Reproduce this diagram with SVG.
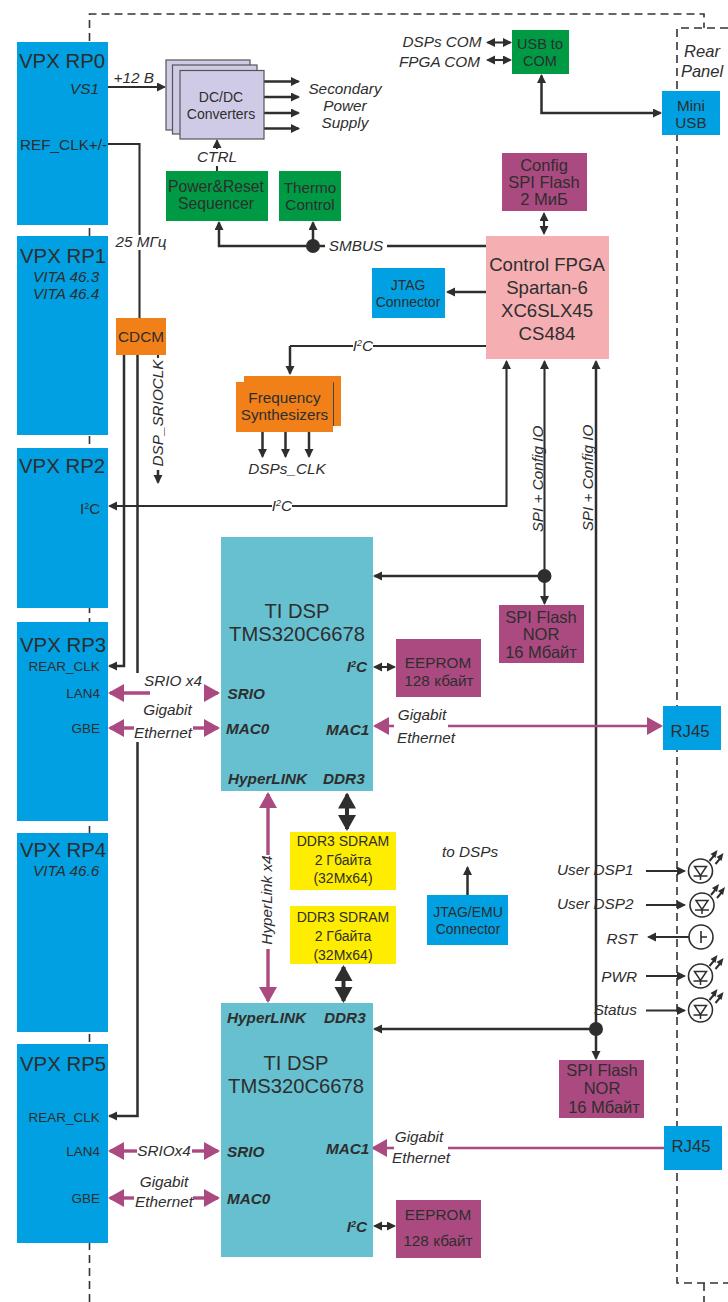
<svg xmlns="http://www.w3.org/2000/svg" width="728" height="1302" viewBox="0 0 728 1302">
<style>
text{font-family:"Liberation Sans",Arial,sans-serif;fill:#2e2e2e;font-size:15.3px}
.m{text-anchor:middle}.e{text-anchor:end}
.i{font-style:italic}
.b{font-style:italic;font-weight:bold}
.h{font-size:20.4px}.d{font-size:20.2px}.f{font-size:18.6px}.s{font-size:14px}.r{font-size:13.5px}.l{font-size:16.5px}
.blue{fill:#00a0e3}.green{fill:#009a44}.purple{fill:#ab4a81}.orange{fill:#f18019}.teal{fill:#66c0d0}.yellow{fill:#ffed00}.pink{fill:#f5afb3}
.lav{fill:#cfcbe6;stroke:#555;stroke-width:1.2}
.frame{fill:none;stroke:#333;stroke-width:1.6;stroke-dasharray:8 5}
.w{fill:none;stroke:#2e2e2e;stroke-width:2.1}
.k{fill:none;stroke:#2e2e2e;stroke-width:2.5}
.a{marker-end:url(#ak)}.aa{marker-start:url(#ak);marker-end:url(#ak)}
.p{fill:none;stroke:#ab4a81;stroke-width:3.4}
.pt{fill:none;stroke:#ab4a81;stroke-width:2.6}
.pa{marker-end:url(#ap)}
.big{fill:none;stroke:#2e2e2e;stroke-width:4;marker-start:url(#ab);marker-end:url(#ab)}
.dot{fill:#2e2e2e}
.led{fill:#fff;stroke:#2e2e2e;stroke-width:1.6}
</style>
<defs>
<marker id="ak" markerUnits="userSpaceOnUse" markerWidth="10" markerHeight="10" refX="7.5" refY="4.5" orient="auto-start-reverse"><path d="M0 0L9 4.5L0 9z" fill="#2e2e2e"/></marker>
<marker id="ap" markerUnits="userSpaceOnUse" markerWidth="17" markerHeight="19" refX="14" refY="9" orient="auto-start-reverse"><path d="M0 0L16 9L0 18z" fill="#ab4a81"/></marker>
<marker id="ab" markerUnits="userSpaceOnUse" markerWidth="17" markerHeight="19" refX="14" refY="9" orient="auto-start-reverse"><path d="M0 0L16 9L0 18z" fill="#2e2e2e"/></marker>
<g id="led-sym">
<circle class="led" r="12"/>
<path d="M-6-4.5H6L0 4.5zM-7 5H7M0 5V9" fill="none" stroke="#2e2e2e" stroke-width="1.5"/>
<path d="M9-10L14-16M15-7L20-13" stroke="#2e2e2e" stroke-width="2" fill="none"/>
<path d="M17-21L15-13L10-17zM23-18L21-10L16-14z" fill="#2e2e2e"/>
</g>
</defs>

<g id="frame">
<path class="frame" d="M89.5 1302V14H704V28"/>
<path class="frame" d="M728 28H677V1283H728"/>
<path class="frame" d="M704 1283V1302"/>
</g>

<g id="connectors">
<path class="w a" d="M108 87H164.5"/>
<path class="w" d="M108 144H139.5V235M139.5 250V318"/>
<path class="w a" d="M217 149V140.5"/>
<path class="w" d="M217 166V171"/>
<path class="k" d="M387 246H486"/>
<path class="k a" d="M325 246H219V222.5"/>
<path class="k a" d="M313 246V222.5"/>
<circle class="dot" cx="313" cy="246" r="7"/>
<path class="k a" d="M264 81.5H298.5"/>
<path class="k a" d="M264 97H298.5"/>
<path class="k a" d="M264 113H298.5"/>
<path class="k a" d="M264 128.5H298.5"/>
<path class="w aa" d="M487.5 42.5H510.5"/>
<path class="w aa" d="M487.5 60H510.5"/>
<path class="k aa" d="M541.5 75.5V113H660.5"/>
<path class="w aa" d="M544 213.5V233.5"/>
<path class="k a" d="M486 292H447.5"/>
<path class="w" d="M486 346H373M353 346H290"/>
<path class="k a" d="M290 346V373.5"/>
<path class="k a" d="M262.5 432V456.5"/>
<path class="k a" d="M285.5 432V456.5"/>
<path class="k a" d="M309 432V456.5"/>
<path class="w a" d="M272 506H109.5"/>
<path class="w a" d="M292 506H506.5V361.5"/>
<path class="k a" d="M124 355V666H109.5"/>
<path class="k" d="M137.5 355V673"/>
<path class="k a" d="M137.5 742V1116H109.5"/>
<path class="w" d="M158 355V358"/>
<path class="k a" d="M158 470V482.5"/>
<path class="w aa" d="M544.5 361.5V603.5"/>
<path class="k a" d="M544.5 576H374.5"/>
<circle class="dot" cx="544.5" cy="576" r="7"/>
<path class="k aa" d="M596 361.5V1058.5"/>
<path class="k a" d="M596 1029H374.5"/>
<circle class="dot" cx="596" cy="1029" r="7"/>
<path class="w aa" d="M374.5 667H394.5"/>
<path class="w aa" d="M374.5 1226H394.5"/>
<path class="k a" d="M467.5 895V867.5"/>
<path class="w a" d="M646 871H684.5"/>
<path class="w a" d="M646 905H684.5"/>
<path class="w a" d="M689 937H648.5"/>
<path class="w a" d="M646 976H684.5"/>
<path class="w a" d="M646 1010.5H684.5"/>
<path class="p pa" d="M150 693H110"/>
<path class="p pa" d="M205 693H218"/>
<path class="p pa" d="M134 728H110"/>
<path class="p pa" d="M193 728H218"/>
<path class="pt pa" d="M394 726H375"/>
<path class="pt pa" d="M448 726H661"/>
<path class="p pa" d="M268 855V794"/>
<path class="p pa" d="M268 949V1001"/>
<path class="big" d="M347 794.5V829"/>
<path class="big" d="M343.5 967V1001"/>
<path class="p pa" d="M137 1151H110"/>
<path class="p pa" d="M192 1151H218"/>
<path class="p pa" d="M134 1198H110"/>
<path class="p pa" d="M193 1198H218"/>
<path class="pt pa" d="M394 1148H373"/>
<path class="pt" d="M448 1148H664"/>
</g>

<g id="rp0"><rect class="blue" x="17" y="42" width="91" height="183"/><text class="h" x="19" y="68">VPX RP0</text><text class="i" x="70" y="94">VS1</text><text x="20" y="150">REF_CLK+/-</text></g>
<g id="rp1"><rect class="blue" x="17" y="236" width="91" height="199"/><text class="h" x="20" y="263">VPX RP1</text><text class="i" x="33" y="282">VITA 46.3</text><text class="i" x="33" y="299">VITA 46.4</text></g>
<g id="rp2"><rect class="blue" x="17" y="448" width="91" height="160"/><text class="h" x="19" y="473">VPX RP2</text><text x="80" y="514">I<tspan font-size="9" dy="-5">2</tspan><tspan dy="5">C</tspan></text></g>
<g id="rp3"><rect class="blue" x="17" y="622" width="91" height="199"/><text class="h" x="20" y="652">VPX RP3</text><text class="r" x="28.5" y="671">REAR_CLK</text><text class="r e" x="100" y="698">LAN4</text><text class="r e" x="100" y="733">GBE</text></g>
<g id="rp4"><rect class="blue" x="17" y="833" width="91" height="199"/><text class="h" x="20" y="857">VPX RP4</text><text class="i" x="33" y="876">VITA 46.6</text></g>
<g id="rp5"><rect class="blue" x="17" y="1044" width="91" height="199"/><text class="h" x="20" y="1071">VPX RP5</text><text class="r" x="28.5" y="1122">REAR_CLK</text><text class="r e" x="100" y="1156">LAN4</text><text class="r e" x="100" y="1203">GBE</text></g>

<g id="dcdc"><rect class="lav" x="166" y="60" width="84" height="70"/><rect class="lav" x="172.5" y="65" width="84.5" height="69"/><rect class="lav" x="180" y="70.5" width="84" height="68.5"/><text class="s m" x="221" y="102">DC/DC</text><text class="s m" x="221" y="119">Converters</text></g>
<g id="sequencer"><rect class="green" x="166" y="171" width="102" height="50"/><text class="m" style="font-size:15.7px" x="216" y="192">Power&amp;Reset</text><text class="m" style="font-size:15.7px" x="216" y="209">Sequencer</text></g>
<g id="thermo"><rect class="green" x="279" y="171" width="62" height="50"/><text class="m" x="310" y="193">Thermo</text><text class="m" x="310" y="210">Control</text></g>
<g id="cdcm"><rect class="orange" x="116" y="318" width="50" height="37"/><text class="m" x="141" y="342">CDCM</text></g>
<g id="usbcom"><rect class="green" x="512" y="30" width="57" height="44"/><text class="m" style="font-size:14.5px" x="540" y="49">USB to</text><text class="m" style="font-size:14.5px" x="540" y="66">COM</text></g>
<g id="miniusb"><rect class="blue" x="662" y="91" width="58" height="44"/><text class="m" x="691" y="111">Mini</text><text class="m" x="691" y="128">USB</text></g>
<g id="config"><rect class="purple" x="502" y="153" width="85" height="58"/><text class="m l" x="544" y="171">Config</text><text class="m l" x="544" y="188">SPI Flash</text><text class="m l" x="544" y="205">2 МиБ</text></g>
<g id="fpga"><rect class="pink" x="486" y="236" width="123" height="123"/><text class="m f" x="547" y="271">Control FPGA</text><text class="m f" x="547" y="294">Spartan-6</text><text class="m f" x="547" y="317">XC6SLX45</text><text class="m f" x="547" y="340">CS484</text></g>
<g id="jtag"><rect class="blue" x="372" y="268" width="73" height="50"/><text class="m s" x="408" y="290">JTAG</text><text class="m s" x="408" y="307">Connector</text></g>
<g id="synth"><rect class="orange" x="244" y="376" width="97" height="50"/><path d="M244 382.5H333.5V426" fill="none" stroke="#444" stroke-width="1"/><rect class="orange" x="236" y="382" width="97" height="50"/><text class="m" x="284.5" y="403">Frequency</text><text class="m" x="284.5" y="420">Synthesizers</text></g>
<g id="dsp1"><rect class="teal" x="221" y="537" width="152" height="254"/><text class="m d" x="297" y="618">TI DSP</text><text class="m d" x="297" y="641">TMS320C6678</text><text class="b e" x="367" y="672">I<tspan font-size="9" dy="-5">2</tspan><tspan dy="5">C</tspan></text><text class="b" x="227.5" y="699">SRIO</text><text class="b" x="226" y="734">MAC0</text><text class="b" x="326" y="735">MAC1</text><text class="b" x="228" y="784">HyperLINK</text><text class="b" x="323" y="784">DDR3</text></g>
<g id="eeprom1"><rect class="purple" x="396" y="639" width="85" height="58"/><text class="m" x="438" y="668">EEPROM</text><text class="m" x="439" y="686">128 кбайт</text></g>
<g id="spi1"><rect class="purple" x="499" y="605" width="85" height="58"/><text class="m l" x="541" y="623">SPI Flash</text><text class="m l" x="541" y="640">NOR</text><text class="m l" x="541" y="658">16 Мбайт</text></g>
<g id="rj45a"><rect class="blue" x="663" y="706" width="58" height="44"/><text class="m" style="font-size:16.8px" x="690" y="737">RJ45</text></g>
<g id="ddr1"><rect class="yellow" x="290" y="832" width="106" height="58"/><text class="m s" x="343" y="846">DDR3 SDRAM</text><text class="m s" x="343" y="865">2 Гбайта</text><text class="m s" x="343" y="883">(32Mx64)</text></g>
<g id="ddr2"><rect class="yellow" x="290" y="906" width="106" height="58"/><text class="m s" x="343" y="922">DDR3 SDRAM</text><text class="m s" x="343" y="941">2 Гбайта</text><text class="m s" x="343" y="960">(32Mx64)</text></g>
<g id="jtagemu"><rect class="blue" x="427" y="895" width="81" height="50"/><text class="m s" x="468" y="917">JTAG/EMU</text><text class="m s" x="468" y="934">Connector</text></g>
<g id="dsp2"><rect class="teal" x="221" y="1003" width="152" height="254"/><text class="b" x="227" y="1023">HyperLINK</text><text class="b" x="324" y="1023">DDR3</text><text class="m d" x="296" y="1070">TI DSP</text><text class="m d" x="296" y="1093">TMS320C6678</text><text class="b" x="326" y="1154">MAC1</text><text class="b" x="227" y="1157">SRIO</text><text class="b" x="227" y="1204">MAC0</text><text class="b e" x="367" y="1232">I<tspan font-size="9" dy="-5">2</tspan><tspan dy="5">C</tspan></text></g>
<g id="spi2"><rect class="purple" x="559" y="1060" width="85" height="58"/><text class="m l" x="602" y="1076">SPI Flash</text><text class="m l" x="602" y="1094">NOR</text><text class="m l" x="604" y="1113">16 Мбайт</text></g>
<g id="rj45b"><rect class="blue" x="664" y="1126" width="58" height="44"/><text class="m" style="font-size:16.8px" x="691" y="1152">RJ45</text></g>
<g id="eeprom2"><rect class="purple" x="396" y="1200" width="85" height="58"/><text class="m" x="438" y="1220">EEPROM</text><text class="m" x="438" y="1246">128 кбайт</text></g>

<g id="led1"><use href="#led-sym" x="700.5" y="871"/></g>
<g id="led2"><use href="#led-sym" x="702" y="905"/></g>
<g id="rst"><circle class="led" cx="701" cy="937" r="12"/><path d="M701 931V943M701 937H707" fill="none" stroke="#2e2e2e" stroke-width="1.6"/></g>
<g id="led3"><use href="#led-sym" x="700.5" y="976"/></g>
<g id="led4"><use href="#led-sym" x="700.5" y="1010"/></g>

<g id="labels">
<text class="i" x="113.5" y="83">+12 В</text>
<text class="i m" x="345" y="94">Secondary</text><text class="i m" x="345" y="111">Power</text><text class="i m" x="345" y="128">Supply</text>
<text class="i m" x="217" y="162">CTRL</text>
<text class="i m" x="141" y="247">25 МГц</text>
<text class="i m" x="356" y="251">SMBUS</text>
<text class="i e" x="481.5" y="47">DSPs COM</text><text class="i e" x="480" y="67">FPGA COM</text>
<text class="i m l" x="702" y="57">Rear</text><text class="i m l" x="702" y="77">Panel</text>
<text class="i m" x="363" y="351">I<tspan font-size="9" dy="-5">2</tspan><tspan dy="5">C</tspan></text>
<text class="i m" x="287" y="474">DSPs_CLK</text>
<text class="i m" x="282" y="511">I<tspan font-size="9" dy="-5">2</tspan><tspan dy="5">C</tspan></text>
<text class="i m" transform="rotate(-90 162.5 413)" x="162.5" y="413">DSP_SRIOCLK</text>
<text class="i m" transform="rotate(-90 542.7 479)" x="542.7" y="479">SPI + Config IO</text>
<text class="i m" transform="rotate(-90 593.3 478)" x="593.3" y="478">SPI + Config IO</text>
<text class="i m" transform="rotate(-90 272 900)" x="272" y="900">HyperLink x4</text>
<text class="i m" x="173" y="686">SRIO x4</text>
<text class="i m" x="167.5" y="715">Gigabit</text><text class="i m" x="163" y="738">Ethernet</text>
<text class="i m" x="422" y="720">Gigabit</text><text class="i m" x="426" y="743">Ethernet</text>
<text class="i m" x="470" y="857">to DSPs</text>
<text class="i" x="557" y="875">User DSP1</text><text class="i" x="557" y="909">User DSP2</text>
<text class="i e" x="637" y="944">RST</text><text class="i e" x="637" y="982">PWR</text><text class="i e" x="637" y="1015">Status</text>
<text class="i m" x="164" y="1156">SRIOx4</text>
<text class="i m" x="164" y="1187">Gigabit</text><text class="i m" x="164" y="1207">Ethernet</text>
<text class="i m" x="419" y="1142">Gigabit</text><text class="i m" x="421" y="1163">Ethernet</text>
</g>
</svg>
